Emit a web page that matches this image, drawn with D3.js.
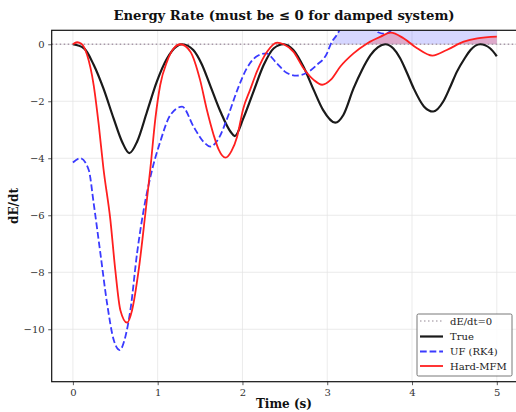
<!DOCTYPE html>
<html><head><meta charset="utf-8">
<script src="https://cdn.jsdelivr.net/npm/d3@7"></script>
<style>body{margin:0;background:#fff}svg{display:block}text{font-family:"DejaVu Serif",serif}</style>
</head><body>
<script>
const title = "Energy Rate (must be ≤ 0 for damped system)";
const xTicks = [0,1,2,3,4,5];
const yTicks = [0,-2,-4,-6,-8,-10];
const seriesNames = ["dE/dt=0","True","UF (RK4)","Hard-MFM"];

const trueT = [0,0.13,0.245,0.36,0.48,0.58,0.666,0.757,0.875,0.99,1.11,1.22,1.288,1.42,1.52,1.62,1.74,1.86,1.91,2.01,2.13,2.25,2.37,2.486,2.6,2.72,2.84,2.95,3.095,3.19,3.31,3.41,3.51,3.6,3.685,3.78,3.86,3.94,4.02,4.14,4.25,4.37,4.45,4.53,4.62,4.69,4.805,4.92,5.0];
const trueV = [0,-0.14,-0.72,-1.55,-2.6,-3.42,-3.82,-3.42,-2.36,-1.31,-0.5,-0.08,0,-0.2,-0.7,-1.45,-2.36,-3.07,-3.22,-2.6,-1.66,-0.73,-0.14,0,-0.2,-0.79,-1.6,-2.3,-2.75,-2.48,-1.55,-0.9,-0.38,-0.1,0,-0.15,-0.49,-1.0,-1.55,-2.18,-2.36,-2.0,-1.5,-0.96,-0.5,-0.2,0,-0.14,-0.42];

const ufT = [0,0.088,0.187,0.245,0.324,0.403,0.481,0.552,0.619,0.678,0.757,0.835,0.934,1.03,1.15,1.288,1.425,1.54,1.62,1.72,1.82,1.94,2.05,2.17,2.28,2.4,2.52,2.64,2.76,2.88,3.0,3.04,3.12,3.2,3.3,3.42,3.52,3.6,3.67,3.74,3.85,4.0,4.3,4.6,5.0];
const ufV = [-4.15,-4.0,-4.41,-5.58,-7.33,-9.09,-10.37,-10.73,-10.26,-9.33,-7.33,-5.81,-4.41,-3.42,-2.48,-2.19,-2.9,-3.42,-3.59,-3.3,-2.6,-1.6,-0.85,-0.42,-0.32,-0.65,-1.0,-1.1,-1.0,-0.72,-0.3,0.0,0.36,0.8,1.1,1.0,0.65,0.42,0.37,0.45,1.2,2.0,3.0,3.5,4.0];

const mfmT = [0,0.05,0.1,0.167,0.245,0.305,0.36,0.442,0.5,0.56,0.639,0.698,0.776,0.855,0.914,0.973,1.03,1.11,1.19,1.268,1.386,1.5,1.58,1.66,1.72,1.8,1.87,1.936,2.01,2.09,2.17,2.29,2.41,2.486,2.6,2.72,2.84,2.94,3.04,3.155,3.31,3.47,3.63,3.75,3.9,4.06,4.24,4.41,4.61,4.77,5.0];
const mfmV = [0,0.07,0.02,-0.37,-1.43,-2.83,-4.35,-6.16,-7.92,-9.33,-9.77,-9.33,-7.92,-5.93,-4.35,-2.6,-1.43,-0.61,-0.14,0,-0.26,-1.25,-2.3,-3.18,-3.7,-3.98,-3.75,-3.25,-2.25,-1.6,-0.96,-0.26,0.06,0,-0.26,-0.84,-1.25,-1.42,-1.25,-0.78,-0.32,0.03,0.27,0.41,0.21,-0.14,-0.4,-0.2,0.09,0.21,0.27];

const W = 516, H = 412;
const L = 51.7, R = 518, T = 30.3, B = 381.7;
const svg = d3.select("body").append("svg").attr("width", W).attr("height", H);
const x = d3.scaleLinear().domain([-0.25, 5.25]).range([L, R]);
const y = d3.scaleLinear().domain([-11.84, 0.49]).range([B, T]);

svg.append("defs").append("clipPath").attr("id","clip")
  .append("rect").attr("x",L).attr("y",T).attr("width",R-L).attr("height",B-T);

// grid
const grid = svg.append("g").attr("stroke","#e6e6e6").attr("stroke-width",0.8);
xTicks.forEach(t => grid.append("line").attr("x1",x(t)).attr("x2",x(t)).attr("y1",T).attr("y2",B));
yTicks.forEach(t => grid.append("line").attr("x1",L).attr("x2",R).attr("y1",y(t)).attr("y2",y(t)));

const zip = (ts, vs) => ts.map((t,i)=>({t, v: vs[i]}));
const dTrue = zip(trueT, trueV), dUF = zip(ufT, ufV), dMFM = zip(mfmT, mfmV);

const plot = svg.append("g").attr("clip-path","url(#clip)");
const area = d3.area().x(d=>x(d.t)).y0(y(0)).y1(d=>y(Math.max(0,d.v))).curve(d3.curveMonotoneX);
plot.append("path").datum(dUF).attr("d",area).attr("fill","rgba(0,0,255,0.16)");
plot.append("path").datum(dMFM).attr("d",area).attr("fill","rgba(255,0,0,0.2)");

// zero line
plot.append("line").attr("x1",L).attr("x2",R).attr("y1",y(0)).attr("y2",y(0))
  .attr("stroke","#a898a8").attr("stroke-width",1.5).attr("stroke-dasharray","1.5,2.5");

const line = d3.line().x(d=>x(d.t)).y(d=>y(d.v)).curve(d3.curveMonotoneX);
plot.append("path").datum(dTrue).attr("d",line).attr("fill","none").attr("stroke","#1a1a1a").attr("stroke-width",2.2);
plot.append("path").datum(dUF).attr("d",line).attr("fill","none").attr("stroke","#3a3aff").attr("stroke-width",1.8).attr("stroke-dasharray","6.7,2.9");
plot.append("path").datum(dMFM).attr("d",line).attr("fill","none").attr("stroke","#ff1f1f").attr("stroke-width",1.8);

// axes
const xAxis = svg.append("g").attr("transform",`translate(0,${B})`)
  .call(d3.axisBottom(x).tickValues(xTicks).tickFormat(d3.format("d")).tickSize(3.5).tickPadding(3.5));
const yAxis = svg.append("g").attr("transform",`translate(${L},0)`)
  .call(d3.axisLeft(y).tickValues(yTicks).tickFormat(d => d < 0 ? "\u2212" + Math.abs(d) : d).tickSize(3.5).tickPadding(3.5));
[xAxis,yAxis].forEach(a=>{
  a.select(".domain").remove();
  a.selectAll("text").attr("font-family","DejaVu Serif").attr("font-size",10).attr("fill","#333");
  a.selectAll("line").attr("stroke","#333").attr("stroke-width",0.8);
});
svg.append("rect").attr("x",L).attr("y",T).attr("width",R-L).attr("height",B-T)
  .attr("fill","none").attr("stroke","#111").attr("stroke-width",1.2);

svg.append("text").attr("x",284).attr("y",20).attr("text-anchor","middle")
  .attr("font-weight","bold").attr("font-size",13.2).attr("fill","#111").text(title);
svg.append("text").attr("x",284).attr("y",408).attr("text-anchor","middle")
  .attr("font-weight","bold").attr("font-size",12).attr("fill","#111").text("Time (s)");
svg.append("text").attr("transform",`translate(18,${(T+B)/2}) rotate(-90)`).attr("text-anchor","middle")
  .attr("font-weight","bold").attr("font-size",12).attr("fill","#111").text("dE/dt");

// legend
const lg = svg.append("g");
lg.append("rect").attr("x",417).attr("y",314).attr("width",95).attr("height",62)
  .attr("fill","white").attr("fill-opacity",0.85).attr("stroke","#555").attr("stroke-width",0.8).attr("rx",1.5);
const styles = [
  {c:"#b8b0b8", w:1.5, dash:"1.5,2.5"},
  {c:"#1a1a1a", w:2.2, dash:null},
  {c:"#3a3aff", w:1.8, dash:"6.7,2.9"},
  {c:"#ff1f1f", w:1.8, dash:null}
];
const ly = [321, 336.5, 351.5, 366];
seriesNames.forEach((n,i)=>{
  const l = lg.append("line").attr("x1",420).attr("x2",443).attr("y1",ly[i]).attr("y2",ly[i])
    .attr("stroke",styles[i].c).attr("stroke-width",styles[i].w);
  if (styles[i].dash) l.attr("stroke-dasharray",styles[i].dash);
  lg.append("text").attr("x",450).attr("y",ly[i]+3.5).attr("font-size",10).attr("fill","#222").text(n);
});
</script>
</body></html>
